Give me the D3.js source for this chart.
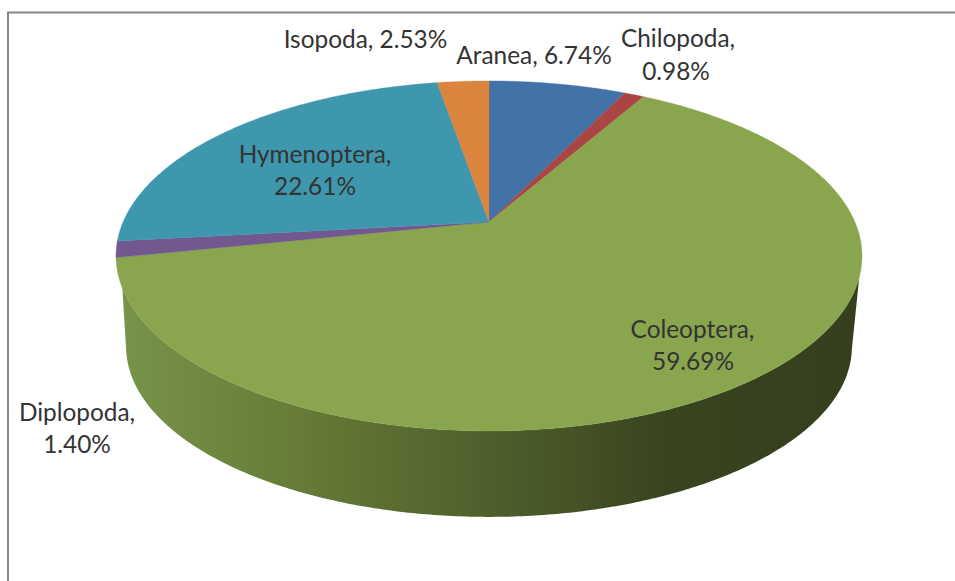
<!DOCTYPE html>
<html>
<head>
<meta charset="utf-8">
<script src="https://cdn.jsdelivr.net/npm/d3@7/dist/d3.min.js"></script>
<style>
html,body{margin:0;padding:0;background:#fff;overflow:hidden}
svg{display:block}
text{font-family:Lato,"Open Sans",sans-serif;font-size:24.4px;fill:#333;text-anchor:middle}
</style>
</head>
<body>
<svg id="c" width="955" height="581"></svg>
<script>
const categories = ["Aranea","Chilopoda","Coleoptera","Diplopoda","Hymenoptera","Isopoda"];
const percents   = [6.74,0.98,59.69,1.40,22.61,2.53];
const colours    = ["#4272a8","#a94643","#89a54e","#71588f","#3f97ae","#db843d"];

// layout (not data)
const W = 955, H = 581;
const labelLines = [
  [1,[[534,64]]],[2,[[678,47],[676,80]]],[2,[[692.5,338],[693,370]]],
  [2,[[77,421],[77,453]]],[2,[[315,163],[315,195]]],[1,[[365.5,48]]]
];
const cx = 489, apexY = 222, ax = 365.9, ay = 168.4, persp = -0.194;
const depthScale = 0.973, baseApexY = 313.6;

const svg = d3.select("#c");
const defs = svg.append("defs");
const grad = defs.append("linearGradient").attr("id","wall")
  .attr("gradientUnits","userSpaceOnUse").attr("x1",116).attr("x2",862).attr("y1",0).attr("y2",0);
[[0,"#78944a"],[0.24,"#667c37"],[0.5,"#4f5f2b"],[0.75,"#38431f"],[1,"#353f1e"]]
  .forEach(([o,c])=>grad.append("stop").attr("offset",o).attr("stop-color",c));

svg.append("rect").attr("width",W).attr("height",H).attr("fill","#fff");
svg.append("path").attr("d","M8,581V12.5H955").attr("fill","none").attr("stroke","#858585").attr("stroke-width",2);

const project = (t, s=1, y0=apexY) => {
  const u = Math.sin(t), v = -Math.cos(t), w = 1 + persp*v;
  return [cx + s*ax*u/w, y0 + s*ay*v/w];
};
const line = d3.line();
const arcPts = (a0,a1,s,y0) => {
  const n = Math.max(2,Math.ceil(Math.abs(a1-a0)/0.01));
  const sc = d3.scaleLinear().domain([0,n]).range([a0,a1]);
  return d3.range(n+1).map(i=>project(sc(i),s,y0));
};
const deg = Math.PI/180;

// side wall
const wallPts = arcPts(107.9*deg,248.6*deg,1,apexY)
  .concat(arcPts(258*deg,102*deg,depthScale,baseApexY));
svg.append("path").attr("d",line(wallPts)+"Z").attr("fill","url(#wall)");

// top face slices
const pie = d3.pie().sort(null).value(d=>d)(percents);
svg.selectAll("path.slice").data(pie).join("path").attr("class","slice")
  .attr("fill",(d,i)=>colours[i])
  .attr("stroke",(d,i)=>colours[i]).attr("stroke-width",0.4)
  .attr("d",d=>line([[cx,apexY],...arcPts(d.startAngle,d.endAngle,1,apexY)])+"Z");

// labels
categories.forEach((c,i)=>{
  const full = `${percents[i].toFixed(2)}%`;
  const [n,pos] = labelLines[i];
  const lines = n===1 ? [`${c}, ${full}`] : [`${c},`,full];
  lines.forEach((t,j)=>svg.append("text").attr("x",pos[j][0]).attr("y",pos[j][1]).text(t));
});
</script>
</body>
</html>
